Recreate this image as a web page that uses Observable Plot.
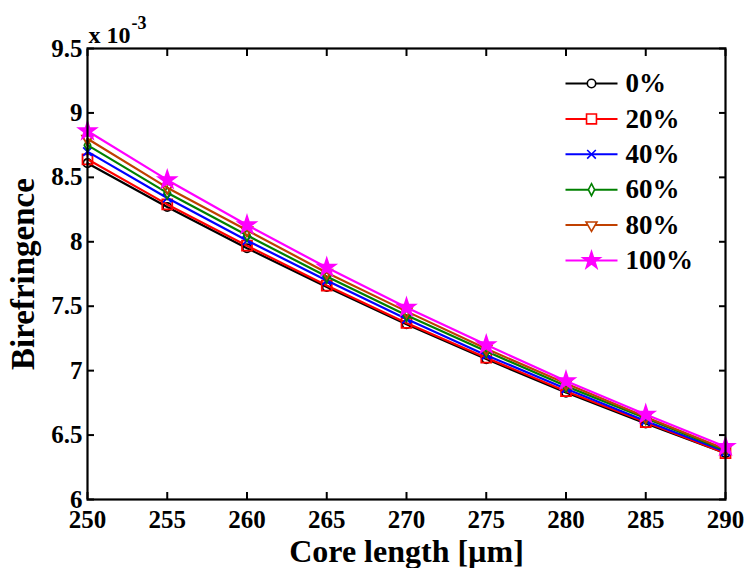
<!DOCTYPE html>
<html>
<head>
<meta charset="utf-8">
<script src="https://cdn.jsdelivr.net/npm/d3@7"></script>
<script src="https://cdn.jsdelivr.net/npm/@observablehq/plot@0.6"></script>
<style>
  html, body { margin: 0; padding: 0; background: white; }
  #chart { width: 746px; height: 568px; }
</style>
</head>
<body>
<div id="chart"></div>
<script>
// Core length [µm]
const coreLength = [250, 255, 260, 265, 270, 275, 280, 285, 290];
// Birefringence (× 10^-3) per series
const series = ["0%", "20%", "40%", "60%", "80%", "100%"];
const b0   = [8.61, 8.27, 7.95, 7.65, 7.36, 7.09, 6.83, 6.59, 6.36];
const b20  = [8.64, 8.29, 7.97, 7.66, 7.37, 7.10, 6.84, 6.60, 6.36];
const b40  = [8.70, 8.34, 8.01, 7.70, 7.40, 7.12, 6.86, 6.61, 6.37];
const b60  = [8.75, 8.38, 8.05, 7.73, 7.43, 7.15, 6.88, 6.63, 6.38];
const b80  = [8.80, 8.42, 8.09, 7.76, 7.46, 7.17, 6.90, 6.64, 6.39];
const b100 = [8.86, 8.48, 8.13, 7.80, 7.49, 7.20, 6.92, 6.66, 6.41];
const values = [b0, b20, b40, b60, b80, b100];

const xTicks = [250, 255, 260, 265, 270, 275, 280, 285, 290];
const yTicks = [6, 6.5, 7, 7.5, 8, 8.5, 9, 9.5];
const yTickLabels = ["6", "6.5", "7", "7.5", "8", "8.5", "9", "9.5"];

const colors = ["#000000", "#ff0000", "#0000ff", "#008000", "#c04000", "#ff00ff"];
const symbols = ["circle", "square", "times", "diamond", "triangle2", "star"];
const rotations = [0, 0, 0, 0, 180, 0];
const radii = [4.2, 5.6, 4.0, 5.2, 5.2, 5.4];
const fills = ["none", "none", "none", "none", "none", "#ff00ff"];

// tall narrow diamond like MATLAB's marker
const narrowDiamond = {
  draw(context, size) {
    const r = Math.sqrt(size / Math.PI);
    context.moveTo(0, -r * 1.15);
    context.lineTo(r * 0.6, 0);
    context.lineTo(0, r * 1.15);
    context.lineTo(-r * 0.6, 0);
    context.closePath();
  }
};
const legendLine = {
  draw(context) {
    context.moveTo(-26, 0);
    context.lineTo(26, 0);
  }
};

const rows = [];
series.forEach((s, i) => coreLength.forEach((x, j) => rows.push({series: s, x, y: values[i][j]})));

const marks = [];
// data lines & markers
series.forEach((s, i) => {
  const d = rows.filter(r => r.series === s);
  marks.push(Plot.line(d, {x: "x", y: "y", stroke: colors[i], strokeWidth: 2.2}));
  marks.push(Plot.dot(d, {
    x: "x", y: "y",
    symbol: () => (i === 3 ? narrowDiamond : symbols[i]),
    r: radii[i], stroke: colors[i], fill: fills[i], strokeWidth: 1.8,
    rotate: rotations[i]
  }));
});

// legend
series.forEach((s, i) => {
  const dy = 35 + i * 35.4;
  marks.push(Plot.dot([s], {frameAnchor: "top-left", dx: 504, dy, symbol: () => legendLine, stroke: colors[i], fill: "none", strokeWidth: 2}));
  marks.push(Plot.dot([s], {
    frameAnchor: "top-left", dx: 504, dy,
    symbol: () => (i === 3 ? narrowDiamond : symbols[i]),
    r: radii[i], stroke: colors[i], fill: fills[i] === "none" ? "white" : fills[i], strokeWidth: 1.6,
    rotate: rotations[i]
  }));
  marks.push(Plot.text([s], {frameAnchor: "top-left", dx: 538, dy, text: d => d, textAnchor: "start", lineAnchor: "middle", fontSize: 27}));
});

// tick labels
marks.push(Plot.text(xTicks, {x: d => d, frameAnchor: "bottom", dy: 11, text: d => String(d), textAnchor: "middle", lineAnchor: "top", fontSize: 25}));
marks.push(Plot.text(yTicks, {y: d => d, frameAnchor: "left", dx: -5, text: (d, i) => yTickLabels[i], textAnchor: "end", lineAnchor: "middle", fontSize: 25}));
// inward ticks on all sides
marks.push(Plot.axisX({anchor: "bottom", ticks: xTicks, tickSize: -7, strokeWidth: 2, label: null, tickFormat: () => ""}));
marks.push(Plot.axisX({anchor: "top", ticks: xTicks, tickSize: -7, strokeWidth: 2, label: null, tickFormat: () => ""}));
marks.push(Plot.axisY({anchor: "left", ticks: yTicks, tickSize: -7, strokeWidth: 2, label: null, tickFormat: () => ""}));
marks.push(Plot.axisY({anchor: "right", ticks: yTicks, tickSize: -7, strokeWidth: 2, label: null, tickFormat: () => ""}));
marks.push(Plot.frame({stroke: "black", strokeWidth: 2.2}));

// titles
marks.push(Plot.text(["Core length [µm]"], {frameAnchor: "bottom", dy: 62, text: d => d, textAnchor: "middle", lineAnchor: "bottom", fontSize: 32}));
marks.push(Plot.text(["Birefringence"], {frameAnchor: "left", dx: -54, text: d => d, rotate: -90, textAnchor: "middle", lineAnchor: "bottom", fontSize: 33}));
marks.push(Plot.text(["x 10"], {frameAnchor: "top-left", dx: 1, dy: -6, text: d => d, textAnchor: "start", lineAnchor: "bottom", fontSize: 24}));
marks.push(Plot.text(["-3"], {frameAnchor: "top-left", dx: 44, dy: -20, text: d => d, textAnchor: "start", lineAnchor: "bottom", fontSize: 18}));

const chart = Plot.plot({
  width: 746,
  height: 568,
  marginLeft: 87,
  marginRight: 21,
  marginTop: 48,
  marginBottom: 69,
  style: {fontFamily: "'Liberation Serif', 'Times New Roman', serif", fontWeight: "bold", background: "white", color: "black"},
  x: {domain: [250, 290]},
  y: {domain: [6, 9.5]},
  marks
});
document.getElementById("chart").appendChild(chart);
</script>
</body>
</html>
